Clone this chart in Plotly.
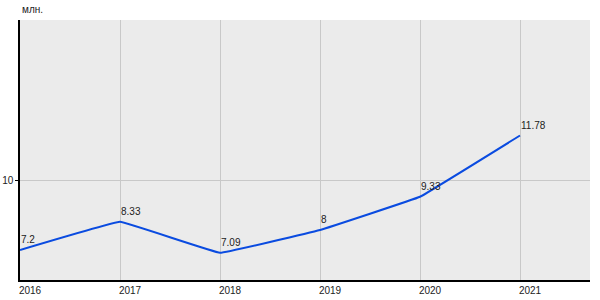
import plotly.graph_objects as go

years = [2016, 2017, 2018, 2019, 2020, 2021]
values = [7.2, 8.33, 7.09, 8, 9.33, 11.78]
labels = ["7.2", "8.33", "7.09", "8", "9.33", "11.78"]

fig = go.Figure()
fig.add_trace(go.Scatter(
    x=years, y=values, mode="lines",
    line=dict(color="#0a4be0", width=2, shape="spline", smoothing=0.15),
    hoverinfo="x+y", showlegend=False,
))

annos = [dict(text="млн.", xref="paper", yref="paper", x=0, y=1,
              xanchor="left", yanchor="bottom", yshift=3, showarrow=False,
              font=dict(size=10, color="#222222"))]
for x, y, t in zip(years, values, labels):
    annos.append(dict(x=x, y=y, text=t, xref="x", yref="y", showarrow=False,
                      xanchor="left", yanchor="bottom", yshift=3, xshift=-1,
                      font=dict(size=10, color="#222222")))

fig.update_layout(
    width=600, height=300,
    margin=dict(l=20, r=10, t=20, b=20),
    paper_bgcolor="white", plot_bgcolor="#ebebeb",
    font=dict(family="Arial, Liberation Sans", size=10, color="#222222"),
    annotations=annos,
)
fig.update_xaxes(
    range=[2016, 2021.7], tickvals=years, ticktext=[str(y) for y in years],
    showgrid=True, gridcolor="#c8c8c8", gridwidth=1,
    showline=True, linecolor="black", linewidth=1.5,
    ticks="", ticklabelshift=10, zeroline=False, automargin=False,
)
fig.update_yaxes(
    range=[6, 16.4], tickvals=[10], ticktext=["10"],
    showgrid=True, gridcolor="#c8c8c8", gridwidth=1,
    showline=True, linecolor="black", linewidth=1.5,
    ticks="outside", ticklen=3, tickcolor="black", zeroline=False, automargin=False,
)
fig.write_html("out.html")
